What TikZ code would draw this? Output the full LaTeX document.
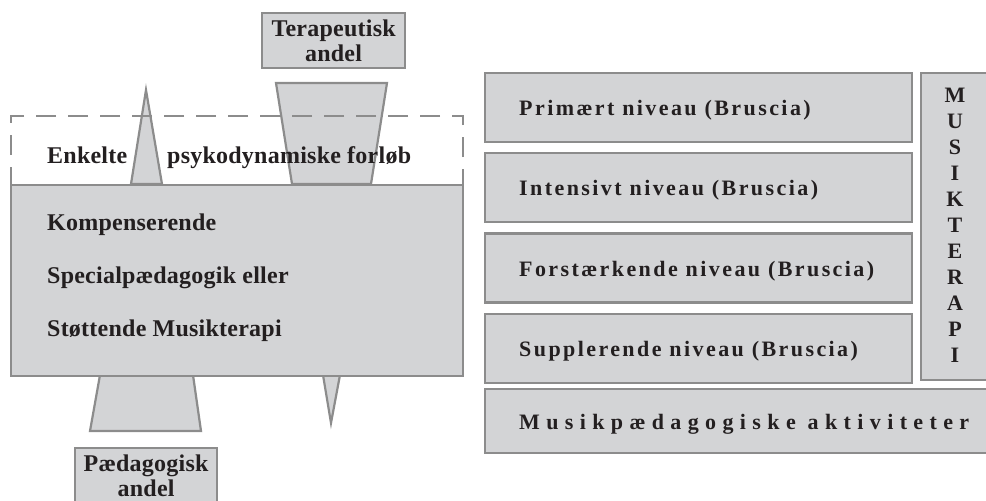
\documentclass[tikz,border=0pt]{standalone}
\usepackage{fontspec}
\setmainfont{Liberation Serif}
\usepackage{tikz}
\usetikzlibrary{positioning}
\definecolor{boxgray}{HTML}{D3D4D6}
\definecolor{linegray}{HTML}{8C8C8C}
\definecolor{inkgray}{HTML}{231F20}
\tikzset{panel/.style={draw=linegray,fill=boxgray,line width=2.2pt,inner sep=0pt},
         level/.style={panel,minimum width=427pt,minimum height=69pt},
         txt/.style={text=inkgray,inner sep=0pt,anchor=base west,
                     font=\bfseries\fontsize{24}{25}\selectfont\addfontfeatures{LetterSpace=1}},
         spaced/.style={txt,font=\bfseries\fontsize{22}{25}\selectfont\addfontfeatures{LetterSpace=#1}},}

\begin{document}
\begin{tikzpicture}[x=1pt,y=-1pt,node distance=9pt]
    \useasboundingbox (0,0) rectangle (986,501);

    % share bars
    \draw[panel] (146,90) -- (162,184) -- (131,184) -- cycle;
    \draw[panel] (276,83) -- (387,83) -- (371,184) -- (292,184) -- cycle;
    \draw[panel] (100,375) -- (193,375) -- (201,431) -- (90,431) -- cycle;
    \draw[panel] (323,375) -- (340,375) -- (331,423) -- cycle;

    \node[panel,anchor=north west,minimum width=143pt,minimum height=55pt,align=center,text=inkgray,
          font=\bfseries\fontsize{24}{25}\selectfont\addfontfeatures{LetterSpace=1}] (ter) at (261,12) {Terapeutisk\\andel};
    \node[panel,anchor=north west,minimum width=142pt,minimum height=56pt,align=center,text=inkgray,
          font=\bfseries\fontsize{24}{25}\selectfont\addfontfeatures{LetterSpace=1}] (ped) at (74,447) {Pædagogisk\\andel};

    \node[draw=linegray,line width=2.2pt,dash pattern=on 20pt off 12pt,anchor=north west,
          minimum width=452pt,minimum height=69pt] (enk) at (10,115) {};
    \node[panel,anchor=north west,minimum width=452pt,minimum height=191pt] (komp) at (10,184) {};

    \node[txt] (enk1) at (47,163) {Enkelte};
    \node[txt] (enk2) at (167,163) {psykodynamiske forløb};
    \node[txt] (komp1) at (47,230) {Kompenserende};
    \node[txt] (komp2) at (47,283) {Specialpædagogik eller};
    \node[txt] (komp3) at (47,336) {Støttende Musikterapi};

    % Bruscia levels
    \node[level,anchor=north west] (prim) at (484,72) {};
    \node[level] (int) [below = of prim] {};
    \node[level] (forst) [below = of int] {};
    \node[level] (suppl) [below = of forst] {};
    \node[panel,anchor=north west,minimum width=80pt,minimum height=307pt] (mt) at (920,72) {};
    \node[panel,anchor=north west,minimum width=510pt,minimum height=64pt] (mped) at (484,388) {};

    \node[spaced=11] at ([xshift=35pt,yshift=-8pt]prim.west) {Primært niveau (Bruscia)};
    \node[spaced=11] at ([xshift=35pt,yshift=-8pt]int.west) {Intensivt niveau (Bruscia)};
    \node[spaced=11] at ([xshift=35pt,yshift=-8pt]forst.west) {Forstærkende niveau (Bruscia)};
    \node[spaced=11] at ([xshift=35pt,yshift=-8pt]suppl.west) {Supplerende niveau (Bruscia)};
    \node[spaced=29] at (519,429) {Musikpædagogiske aktiviteter};
    \node[text=inkgray,inner sep=0pt,anchor=north,align=center,
          font=\bfseries\fontsize{22}{26}\selectfont] (mtt) at (955,88) {M\\U\\S\\I\\K\\T\\E\\R\\A\\P\\I};
\end{tikzpicture}
\end{document}
